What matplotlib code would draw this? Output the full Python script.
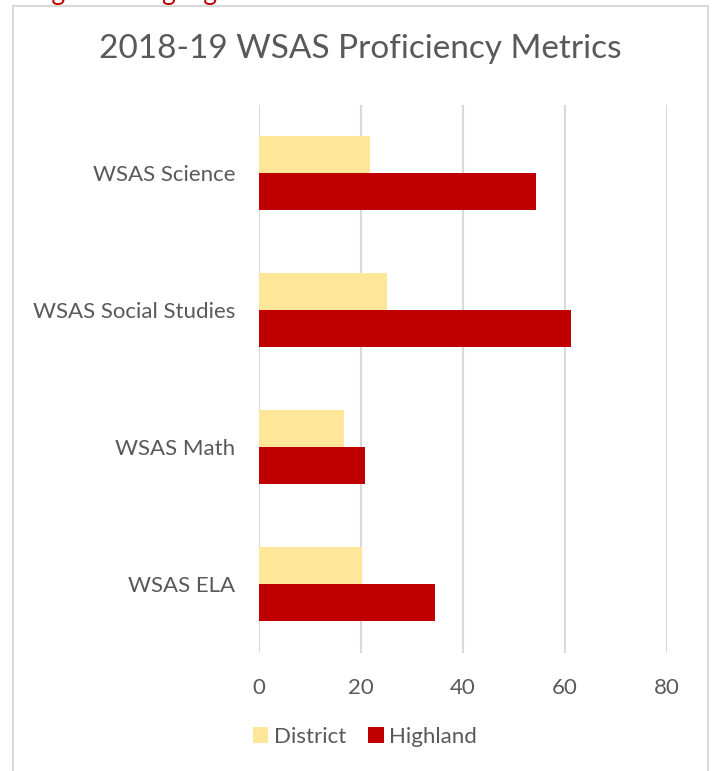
#!/usr/bin/env python3

import matplotlib
matplotlib.use("Agg")
import matplotlib.pyplot as plt
from matplotlib.patches import Rectangle

categories = ["WSAS Science", "WSAS Social Studies", "WSAS Math", "WSAS ELA"]
district = [21.7, 25.1, 16.7, 20.2]
highland = [54.4, 61.2, 20.8, 34.6]
x_ticks = [0, 20, 40, 60, 80]

TEXT = "#595959"
GRID = "#d9d9d9"
YELLOW = "#ffe699"
RED = "#c00000"

plt.rcParams["font.family"] = ["Lato", "DejaVu Sans"]

fig = plt.figure(figsize=(7.14, 7.71), dpi=100)
ax = fig.add_axes([259 / 714, 1 - 652.5 / 771, 408 / 714, 548 / 771])

ys = list(range(len(categories)))
h = 0.27
ax.barh([y - h / 2 for y in ys], district, height=h, color=YELLOW, label="District", zorder=3)
ax.barh([y + h / 2 for y in ys], highland, height=h, color=RED, label="Highland", zorder=3)

ax.set_ylim(len(categories) - 0.5, -0.5)
ax.set_xlim(0, 80)
ax.set_xticks(x_ticks)
ax.set_xticklabels([str(t) for t in x_ticks])
ax.set_yticks(ys)
ax.set_yticklabels(categories)
ax.tick_params(axis="x", length=0, pad=18, labelsize=16, labelcolor=TEXT)
ax.tick_params(axis="y", length=0, pad=17, labelsize=16, labelcolor=TEXT)
ax.grid(axis="x", color=GRID, linewidth=1.5, zorder=0)
for s in ax.spines.values():
    s.set_visible(False)

fig.suptitle("2018-19 WSAS Proficiency Metrics", x=360 / 714, y=1 - 49 / 771,
             va="center", fontsize=24, color=TEXT)

fig.legend(loc="center", bbox_to_anchor=(365 / 714, 1 - 737 / 771), ncol=2,
           frameon=False, fontsize=16, labelcolor=TEXT, handlelength=0.7,
           handleheight=0.7, handletextpad=0.25, columnspacing=1.0)

# chart frame and the clipped page heading above it
fig.patches.append(Rectangle((13 / 714, -0.01), 695 / 714, 1 - 6 / 771 + 0.01,
                             transform=fig.transFigure, fill=False,
                             edgecolor=GRID, linewidth=1.5))
fig.text(25 / 714, 1.0, "Highland Highlights", color=RED, fontsize=19,
         va="baseline", ha="left")

fig.savefig("out.png", dpi=100)
